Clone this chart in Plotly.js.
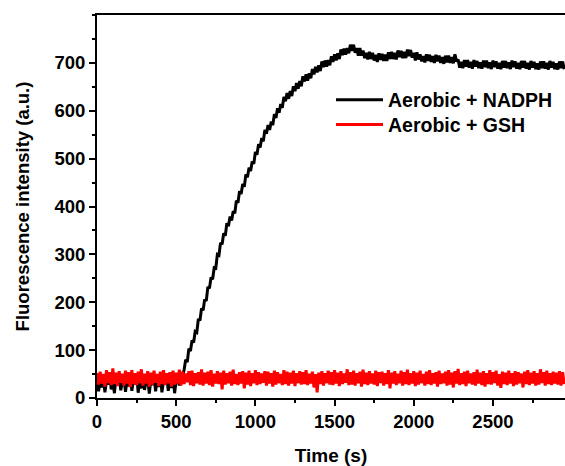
<!DOCTYPE html>
<html><head><meta charset="utf-8">
<script src="https://cdn.plot.ly/plotly-3.0.1.min.js"></script>
<style>html,body{margin:0;padding:0;background:#fff}</style>
</head><body><div id="chart" style="width:565px;height:466px"></div>
<script>
// sampling: every 10 s starting at 0 s
const t0 = 0, dt = 10;
const nadph = [
32,14,40,22,45,12,36,28,48,18,
38,10,44,26,50,16,34,42,13,39,
24,47,15,37,29,52,11,41,20,46,
17,35,43,9,38,27,49,14,40,23,
51,12,36,30,46,15,42,21,48,10,
38,44,26,50,45,
59,80,75,103,98,120,116,139,137,165,162,187,183,206,203,232,229,252,248,272,
271,300,298,324,321,344,339,365,359,379,371,390,386,412,408,432,426,447,441,467,
461,481,474,494,489,514,508,530,523,543,536,560,552,570,560,577,570,593,585,605,
596,614,606,629,620,637,625,641,631,651,641,658,646,662,651,672,661,676,663,678,
668,687,676,692,680,695,683,703,691,705,692,706,695,714,702,718,705,720,708,728,
716,730,717,731,720,738,725,738,721,731,715,731,715,726,710,721,707,723,708,721,
705,717,702,720,706,719,704,717,704,722,708,723,708,721,707,726,712,725,710,723,
710,728,714,727,711,721,705,722,707,718,703,714,701,718,704,717,702,714,700,717,
703,715,700,712,698,715,701,715,700,712,699,718,703,707,690,702,689,706,692,706,
690,702,688,706,692,704,689,701,688,705,691,705,689,701,687,705,691,703,688,700,
687,704,690,704,689,701,687,705,691,703,688,700,687,704,690,704,688,700,686,704,
690,702,687,699,686,703,689,703,688,700,686,704,690,702,687,699,686,703,689,703,
687
];
const gsh = [
52,28,55,30,50,24,58,31,54,27,
62,29,53,25,56,32,51,26,57,30,
54,23,58,29,52,27,55,31,60,26,
51,30,56,24,53,28,57,32,50,25,
55,29,58,27,52,31,54,24,57,28,
53,30,59,26,55,29,51,33,56,27,
57,25,52,31,54,28,60,26,53,30,
55,27,58,24,51,30,56,29,53,18,
57,28,52,31,55,26,59,29,50,27,
54,30,56,20,53,28,57,25,52,31,
58,27,54,29,51,32,56,26,55,30,
52,24,57,28,54,31,50,27,58,29,
55,26,53,30,57,25,52,31,56,28,
54,29,58,27,51,30,55,22,50,12,
53,29,56,26,52,31,57,28,54,27,
58,30,53,25,56,29,51,32,60,27,
54,28,57,26,52,31,55,24,59,29,
53,27,56,30,51,28,57,25,54,31,
55,26,52,29,58,20,53,30,56,27,
51,31,57,26,54,29,59,27,52,30,
56,25,53,28,57,31,50,26,55,29,
58,27,52,30,54,24,57,29,51,31,
55,26,58,28,53,22,56,30,61,27,
52,29,55,25,57,31,51,28,54,26,
59,30,53,27,56,24,52,29,58,28,
54,31,57,26,50,21,55,29,53,27,
57,30,52,25,56,28,54,31,51,22,
55,29,58,27,53,30,56,26,52,28,
60,31,54,26,57,29,52,27,55,30,
53,28,56,26,54,29
];
const seriesNames = ['Aerobic + NADPH', 'Aerobic + GSH'];
const xTicks = [0, 500, 1000, 1500, 2000, 2500];
const yTicks = [0, 100, 200, 300, 400, 500, 600, 700];

const font = {family: 'Liberation Sans, Arial, sans-serif', color: '#000'};
const legFont = Object.assign({}, font, {size: 19.5, weight: 'bold'});
const traces = [
  {y: nadph, x0: t0, dx: dt, type: 'scatter', mode: 'lines', name: seriesNames[0], legend: 'legend',
   line: {color: '#000000', width: 3, simplify: false}},
  {y: gsh, x0: t0, dx: dt, type: 'scatter', mode: 'lines', name: seriesNames[1], legend: 'legend2',
   line: {color: '#ff0000', width: 3, simplify: false}}
];
const layout = {
  width: 565, height: 466,
  margin: {l: 97, r: 0, t: 15, b: 68},
  paper_bgcolor: '#fff', plot_bgcolor: '#fff',
  font: Object.assign({}, font, {size: 18, weight: 'bold'}),
  showlegend: true,
  legend: {x: 0.5, y: 0.778, xanchor: 'left', yanchor: 'middle', bgcolor: 'rgba(0,0,0,0)',
    font: legFont, itemwidth: 47},
  legend2: {x: 0.5, y: 0.713, xanchor: 'left', yanchor: 'middle', bgcolor: 'rgba(0,0,0,0)',
    font: legFont, itemwidth: 47},
  xaxis: {
    range: [0, 2955], tickvals: xTicks, ticktext: xTicks.map(String),
    showgrid: false, zeroline: false, showline: true, linecolor: '#000', linewidth: 2, mirror: true,
    ticks: 'outside', ticklen: 6, tickwidth: 2, tickcolor: '#000',
    minor: {dtick: 250, ticks: 'outside', ticklen: 3, tickwidth: 2, tickcolor: '#000', showgrid: false},
    tickfont: Object.assign({}, font, {size: 18.5, weight: 'bold'}),
    title: {text: 'Time (s)', font: Object.assign({}, font, {size: 19, weight: 'bold'}), standoff: 17}
  },
  yaxis: {
    range: [0, 800], tickvals: yTicks, ticktext: yTicks.map(String),
    showgrid: false, zeroline: false, showline: true, linecolor: '#000', linewidth: 2, mirror: false,
    ticks: 'outside', ticklen: 6, tickwidth: 2, tickcolor: '#000',
    minor: {dtick: 50, ticks: 'outside', ticklen: 3, tickwidth: 2, tickcolor: '#000', showgrid: false},
    tickfont: Object.assign({}, font, {size: 18.5, weight: 'bold'}),
    title: {text: 'Fluorescence intensity (a.u.)', font: Object.assign({}, font, {size: 18.5, weight: 'bold'}), standoff: 20}
  }
};
Plotly.newPlot('chart', traces, layout, {displayModeBar: false, staticPlot: true});
</script>
</body></html>
